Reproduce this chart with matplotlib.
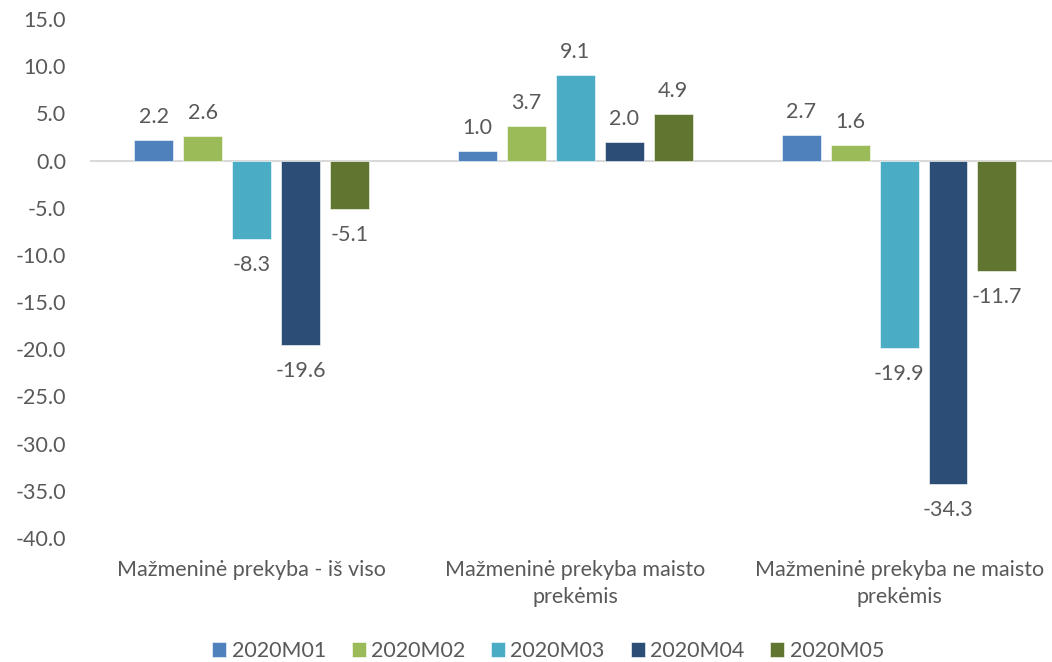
import matplotlib
matplotlib.use("Agg")
import matplotlib.pyplot as plt
import numpy as np

categories = ["Mažmeninė prekyba - iš viso",
              "Mažmeninė prekyba maisto\nprekėmis",
              "Mažmeninė prekyba ne maisto\nprekėmis"]
series_names = ["2020M01", "2020M02", "2020M03", "2020M04", "2020M05"]
m01 = [2.2, 1.0, 2.7]
m02 = [2.6, 3.7, 1.6]
m03 = [-8.3, 9.1, -19.9]
m04 = [-19.6, 2.0, -34.3]
m05 = [-5.1, 4.9, -11.7]
series_values = [m01, m02, m03, m04, m05]
colors = ["#4F81BD", "#9BBB59", "#4BACC6", "#2C4D75", "#5F7530"]
yticks = [15, 10, 5, 0, -5, -10, -15, -20, -25, -30, -35, -40]

plt.rcParams['font.family'] = ['Lato', 'DejaVu Sans']
txt = "#595959"
fs = 15.5

W, H = 1052, 662
fig = plt.figure(figsize=(W/100, H/100), dpi=100)
left_px, right_px = 89.6, 1061
top_px, bot_px = 19, 538
ax = fig.add_axes([left_px/W, 1 - bot_px/H, (right_px-left_px)/W, (bot_px-top_px)/H])

x = np.arange(len(categories))
bw = 0.12
step = 0.151
for i, (name, vals) in enumerate(zip(series_names, series_values)):
    xs = x + (i - 2) * step
    ax.bar(xs, vals, width=bw, color=colors[i], label=name,
           edgecolor="white", linewidth=0.4, zorder=2)
    for xi, v in zip(xs, vals):
        if v >= 0:
            ax.annotate(f"{v:.1f}", (xi, v), xytext=(0, 13), textcoords="offset pixels",
                        ha="center", va="bottom", fontsize=fs, color=txt)
        else:
            ax.annotate(f"{v:.1f}", (xi, v), xytext=(0, -16), textcoords="offset pixels",
                        ha="center", va="top", fontsize=fs, color=txt)

ax.axhline(0, color="#D9D9D9", linewidth=1.5, zorder=1)
ax.set_xlim(-0.5, 2.5)
ax.set_ylim(-40, 15)
ax.set_yticks(yticks)
ax.set_yticklabels([f"{t:.1f}" for t in yticks], fontsize=fs, color=txt)
ax.set_xticks(x)
ax.set_xticklabels(categories, fontsize=fs, color=txt, linespacing=1.4)
ax.tick_params(axis="both", length=0)
ax.tick_params(axis="x", pad=16)
ax.tick_params(axis="y", pad=17)
for s in ax.spines.values():
    s.set_visible(False)

fig.legend(loc="center", bbox_to_anchor=(0.521, 1 - 651/H), ncol=5, frameon=False,
           fontsize=fs, labelcolor=txt, handlelength=0.65, handleheight=0.65,
           handletextpad=0.25, columnspacing=1.2)

fig.savefig("out.png", dpi=100)
